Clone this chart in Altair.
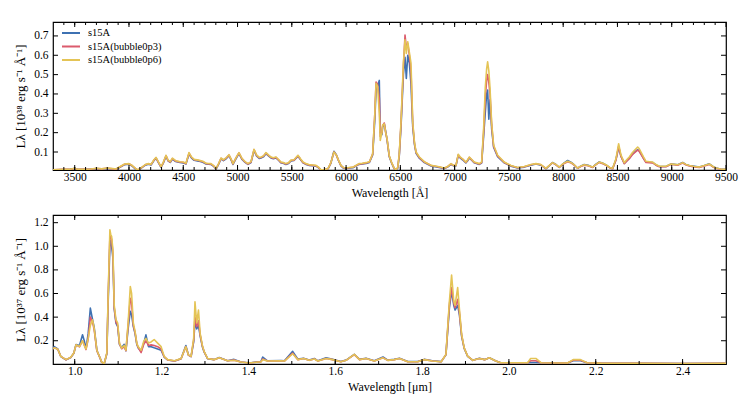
import altair as alt
import pandas as pd

FONT = "Liberation Serif"
SERIES = ["s15A", "s15A(bubble0p3)", "s15A(bubble0p6)"]
COLORS = ["#3E71B2", "#DB5B6D", "#E4C456"]

# ---------------- optical panel (Angstrom, 1e38 erg/s/A) ----------------
top_wave = [3300, 3350, 3400, 3450, 3500, 3530, 3600, 3650, 3700, 3750,
            3800, 3850, 3880, 3920, 3960, 4000, 4030, 4060, 4083, 4110,
            4150, 4180, 4203, 4230, 4249, 4270, 4295, 4315, 4341, 4360,
            4380, 4400, 4430, 4470, 4500, 4525, 4553, 4575, 4600, 4640,
            4680, 4710, 4755, 4780, 4802, 4825, 4848, 4870, 4895, 4921,
            4940, 4958, 4985, 5013, 5040, 5070, 5096, 5124, 5152, 5175,
            5200, 5216, 5240, 5262, 5285, 5308, 5330, 5354, 5380, 5400,
            5425, 5446, 5470, 5492, 5520, 5557, 5580, 5603, 5630, 5658,
            5690, 5723, 5750, 5769, 5800, 5833, 5860, 5888, 5910, 5930,
            5953, 5975, 5999, 6030, 6064, 6090, 6119, 6150, 6184, 6215,
            6245, 6265, 6276, 6290, 6306, 6315, 6330, 6337, 6352, 6365,
            6377, 6398, 6420, 6444, 6460, 6476, 6490, 6506, 6528, 6543,
            6555, 6568, 6583, 6598, 6614, 6630, 6645, 6675, 6721, 6783,
            6845, 6906, 6935, 6967, 6990, 7012, 7033, 7050, 7073, 7104,
            7120, 7135, 7160, 7181, 7227, 7249, 7267, 7282, 7295, 7304,
            7315, 7326, 7341, 7359, 7396, 7457, 7519, 7580, 7642, 7703,
            7749, 7795, 7841, 7870, 7902, 7935, 7964, 8000, 8041, 8075,
            8102, 8133, 8165, 8194, 8230, 8271, 8300, 8332, 8365, 8394,
            8430, 8455, 8486, 8511, 8532, 8563, 8585, 8609, 8635, 8655,
            8686, 8700, 8717, 8740, 8763, 8795, 8824, 8855, 8886, 8920,
            8947, 8993, 9025, 9055, 9080, 9101, 9130, 9162, 9210, 9254,
            9300, 9346, 9380, 9407, 9450, 9500]

top_s15A = [.007, .008, .009, .009, .016, .009, .010, .011, .014, .012,
            .015, .012, .010, .022, .035, .037, .027, .012, .006, .015,
            .032, .037, .033, .056, .068, .046, .021, .041, .078, .054,
            .046, .063, .051, .046, .044, .038, .090, .070, .057, .053,
            .047, .038, .036, .026, .011, .036, .064, .055, .065, .081,
            .060, .036, .065, .092, .063, .046, .036, .046, .108, .080,
            .067, .069, .075, .091, .080, .069, .065, .069, .056, .044,
            .041, .036, .041, .054, .056, .078, .061, .044, .036, .031,
            .029, .027, .017, .006, .008, .012, .043, .104, .086, .056,
            .028, .017, .014, .017, .019, .027, .036, .038, .041, .046,
            .085, .270, .420, .440, .470, .200, .190, .230, .245, .205,
            .165, .075, .042, .013, .008, .017, .080, .230, .500, .590,
            .480, .600, .560, .450, .230, .140, .093, .068, .045, .028,
            .022, .015, .022, .036, .028, .028, .082, .070, .060, .044,
            .055, .069, .056, .044, .036, .043, .180, .300, .400, .420,
            .270, .370, .220, .125, .076, .044, .027, .018, .022, .032,
            .038, .032, .013, .028, .046, .034, .020, .040, .056, .046,
            .033, .016, .028, .035, .031, .021, .036, .049, .042, .033,
            .019, .014, .060, .125, .078, .041, .054, .068, .087, .098,
            .112, .106, .090, .068, .048, .047, .046, .033, .025, .025,
            .025, .038, .036, .034, .041, .046, .036, .030, .026, .022,
            .030, .039, .025, .017, .012, .010]

top_bub03 = [.008, .009, .010, .010, .015, .010, .011, .012, .015, .013,
             .016, .013, .011, .024, .037, .039, .029, .014, .007, .017,
             .034, .039, .035, .058, .070, .048, .023, .043, .081, .056,
             .048, .066, .053, .048, .046, .040, .094, .073, .060, .056,
             .050, .040, .038, .028, .013, .038, .067, .058, .068, .084,
             .063, .038, .068, .095, .066, .048, .038, .048, .112, .083,
             .070, .072, .079, .095, .083, .072, .068, .072, .058, .046,
             .043, .038, .043, .056, .058, .081, .063, .046, .038, .033,
             .031, .029, .018, .007, .009, .013, .044, .100, .084, .057,
             .030, .019, .016, .019, .021, .029, .038, .040, .043, .048,
             .089, .300, .462, .450, .380, .180, .200, .235, .250, .200,
             .168, .078, .044, .014, .009, .019, .085, .245, .540, .705,
             .640, .660, .600, .520, .245, .145, .097, .071, .048, .030,
             .024, .016, .024, .038, .030, .030, .085, .072, .063, .046,
             .058, .072, .058, .046, .038, .046, .200, .380, .470, .500,
             .460, .400, .240, .130, .080, .046, .029, .019, .024, .034,
             .039, .034, .014, .029, .044, .034, .021, .038, .050, .043,
             .032, .016, .026, .032, .029, .020, .033, .046, .040, .032,
             .018, .013, .058, .130, .078, .040, .052, .065, .085, .095,
             .110, .104, .088, .066, .046, .045, .044, .032, .024, .024,
             .024, .036, .034, .032, .038, .043, .034, .028, .023, .020,
             .028, .036, .023, .016, .011, .009]

top_bub06 = [.008, .009, .010, .010, .016, .010, .011, .012, .016, .013,
             .017, .014, .012, .025, .038, .040, .030, .015, .007, .018,
             .035, .040, .036, .060, .072, .050, .024, .045, .083, .058,
             .050, .068, .055, .050, .048, .042, .097, .075, .062, .058,
             .052, .042, .040, .030, .014, .040, .069, .060, .070, .086,
             .065, .040, .070, .097, .068, .050, .040, .050, .114, .085,
             .072, .074, .080, .097, .085, .074, .070, .074, .060, .048,
             .045, .040, .045, .058, .060, .083, .065, .048, .040, .035,
             .033, .031, .020, .008, .010, .014, .045, .100, .085, .058,
             .031, .020, .017, .020, .022, .030, .040, .042, .045, .050,
             .091, .300, .455, .440, .300, .160, .200, .240, .245, .200,
             .170, .080, .045, .015, .010, .020, .090, .255, .560, .680,
             .610, .670, .615, .560, .255, .150, .100, .074, .050, .031,
             .025, .017, .025, .040, .031, .031, .088, .075, .065, .048,
             .060, .074, .060, .048, .040, .048, .220, .430, .530, .566,
             .520, .430, .250, .136, .083, .048, .030, .020, .025, .035,
             .040, .035, .015, .030, .045, .035, .022, .040, .052, .045,
             .034, .017, .028, .034, .030, .022, .035, .048, .042, .034,
             .020, .015, .065, .143, .085, .045, .060, .074, .095, .108,
             .126, .118, .100, .075, .052, .050, .048, .035, .026, .026,
             .026, .038, .036, .034, .040, .045, .036, .030, .025, .022,
             .030, .038, .025, .017, .012, .010]

# ---------------- near-IR panel (micron, 1e37 erg/s/A) ----------------
bot_wave = [0.950, 0.953, 0.961, 0.968, 0.980, 0.991, 0.998, 1.003, 1.011, 1.018,
            1.022, 1.026, 1.031, 1.036, 1.041, 1.045, 1.051, 1.059, 1.062, 1.068,
            1.074, 1.077, 1.081, 1.083, 1.085, 1.088, 1.091, 1.095, 1.099, 1.103,
            1.108, 1.114, 1.118, 1.123, 1.128, 1.131, 1.135, 1.139, 1.143, 1.146,
            1.153, 1.159, 1.164, 1.170, 1.176, 1.183, 1.191, 1.199, 1.206, 1.214,
            1.230, 1.245, 1.256, 1.262, 1.268, 1.274, 1.277, 1.281, 1.285, 1.289,
            1.294, 1.298, 1.306, 1.321, 1.333, 1.352, 1.367, 1.383, 1.402, 1.429,
            1.433, 1.444, 1.475, 1.483, 1.502, 1.514, 1.527, 1.540, 1.552, 1.560,
            1.579, 1.594, 1.613, 1.625, 1.644, 1.656, 1.671, 1.690, 1.710, 1.721,
            1.736, 1.748, 1.767, 1.790, 1.805, 1.824, 1.844, 1.855, 1.863, 1.868,
            1.873, 1.876, 1.882, 1.886, 1.891, 1.897, 1.905, 1.917, 1.932, 1.944,
            1.955, 1.970, 1.981, 2.000, 2.043, 2.050, 2.062, 2.074, 2.135, 2.148,
            2.165, 2.180, 2.211, 2.300, 2.400, 2.500]

bot_s15A = [.140, .150, .130, .066, .038, .058, .094, .168, .160, .250,
            .200, .135, .260, .477, .380, .310, .120, .048, .019, .006,
            .090, .520, 1.010, 1.050, 1.000, .900, .470, .350, .320, .170,
            .140, .170, .115, .300, .450, .420, .320, .260, .170, .140,
            .110, .180, .250, .150, .150, .140, .130, .120, .062, .037,
            .028, .048, .160, .078, .065, .190, .360, .300, .330, .240,
            .150, .105, .048, .040, .058, .030, .042, .020, .012, .024,
            .062, .030, .032, .030, .110, .044, .052, .036, .050, .030,
            .056, .042, .024, .036, .085, .042, .052, .030, .062, .036,
            .042, .052, .024, .024, .042, .030, .023, .080, .480, .620,
            .500, .460, .500, .420, .240, .135, .068, .034, .052, .040,
            .056, .028, .014, .014, .014, .016, .016, .014, .012, .030,
            .030, .014, .010, .008, .007, .008]

bot_bub03 = [.132, .140, .128, .067, .039, .059, .095, .165, .148, .200,
             .165, .125, .215, .400, .360, .290, .115, .048, .019, .006,
             .094, .560, 1.080, 1.080, 1.060, .940, .480, .360, .330, .175,
             .132, .150, .115, .330, .560, .520, .330, .270, .175, .145,
             .100, .170, .200, .160, .165, .160, .150, .130, .065, .038,
             .029, .048, .150, .078, .066, .205, .400, .320, .370, .250,
             .155, .108, .049, .040, .056, .030, .036, .020, .012, .022,
             .045, .028, .030, .028, .095, .040, .050, .034, .046, .028,
             .050, .040, .022, .034, .082, .040, .050, .028, .056, .034,
             .040, .050, .022, .022, .040, .028, .022, .082, .510, .650,
             .520, .480, .550, .440, .250, .138, .069, .034, .050, .040,
             .055, .028, .014, .014, .014, .030, .030, .014, .012, .035,
             .035, .014, .010, .008, .007, .008]

bot_bub06 = [.130, .140, .128, .068, .040, .060, .096, .166, .150, .200,
             .160, .130, .220, .330, .378, .300, .120, .050, .020, .007,
             .096, .576, 1.140, 1.100, 1.085, .970, .500, .380, .350, .180,
             .138, .160, .120, .350, .660, .600, .350, .280, .180, .150,
             .120, .195, .220, .180, .190, .210, .180, .150, .068, .040,
             .030, .050, .150, .080, .068, .220, .530, .350, .460, .260,
             .160, .110, .050, .040, .055, .030, .035, .020, .012, .022,
             .040, .028, .030, .028, .090, .040, .050, .034, .045, .028,
             .050, .040, .022, .034, .085, .040, .050, .028, .055, .034,
             .040, .050, .022, .022, .040, .028, .022, .085, .536, .757,
             .536, .500, .650, .470, .257, .140, .070, .034, .050, .040,
             .056, .028, .014, .014, .014, .050, .050, .014, .012, .040,
             .040, .014, .010, .008, .007, .008]

# ---------------- ticks ----------------
top_xmajor = [3500, 4000, 4500, 5000, 5500, 6000, 6500, 7000, 7500, 8000, 8500, 9000, 9500]
top_xminor = list(range(3400, 9500, 100))
top_yticks = [0.1, 0.2, 0.3, 0.4, 0.5, 0.6, 0.7]
bot_xlabels = [1.0, 1.2, 1.4, 1.6, 1.8, 2.0, 2.2, 2.4]
bot_xminor = [1.0, 1.1, 1.2, 1.3, 1.4, 1.5, 1.6, 1.7, 1.8, 1.9, 2.0, 2.1, 2.2, 2.3, 2.4]
bot_yticks = [0.2, 0.4, 0.6, 0.8, 1.0, 1.2]

W = 673


def long_table(wave, cols):
    rows = []
    for name, vals in zip(SERIES, cols):
        assert len(vals) == len(wave)
        for w, v in zip(wave, vals):
            rows.append({"wave": w, "L": v, "series": name})
    return pd.DataFrame(rows)


def panel(wave, cols, xdom, ydom, xmajor, xminor, yticks, xfmt, xtitle, ytitle, h, legend):
    xs = alt.Scale(domain=xdom, nice=False, zero=False)
    ys = alt.Scale(domain=ydom, nice=False, zero=False)
    xax = alt.Axis(values=xmajor, format=xfmt, title=xtitle, labelFlush=False)
    yax = alt.Axis(values=yticks, format=".1f", title=ytitle)
    lines = alt.Chart(long_table(wave, cols)).mark_line(
        strokeWidth=1.6, clip=True, strokeJoin="round"
    ).encode(
        x=alt.X("wave:Q", scale=xs, axis=xax),
        y=alt.Y("L:Q", scale=ys, axis=yax),
        color=alt.Color("series:N", scale=alt.Scale(domain=SERIES, range=COLORS),
                        legend=legend),
    )
    layers = [lines]
    for vals, ln in [(xmajor, 5), (xminor, 3)]:
        d = pd.DataFrame({"wave": vals})
        base = alt.Chart(d).mark_rule(color="black", strokeWidth=1)
        layers.append(base.encode(x=alt.X("wave:Q", scale=xs, axis=xax),
                                  y=alt.value(h), y2=alt.value(h - ln)))
        layers.append(base.encode(x=alt.X("wave:Q", scale=xs, axis=xax),
                                  y=alt.value(0), y2=alt.value(ln)))
    dy = pd.DataFrame({"L": yticks})
    yb = alt.Chart(dy).mark_rule(color="black", strokeWidth=1)
    layers.append(yb.encode(y=alt.Y("L:Q", scale=ys, axis=yax),
                            x=alt.value(0), x2=alt.value(5)))
    layers.append(yb.encode(y=alt.Y("L:Q", scale=ys, axis=yax),
                            x=alt.value(W - 5), x2=alt.value(W)))
    return alt.layer(*layers).properties(width=W, height=h)


top = panel(top_wave, [top_s15A, top_bub03, top_bub06], [3300, 9500], [0.007, 0.772],
            top_xmajor, top_xminor, top_yticks, "d", "Wavelength [Å]",
            "Lλ [10³⁸ erg s⁻¹ Å⁻¹]", 148,
            alt.Legend(title=None, orient="none", legendX=8, legendY=5))

bot = panel(bot_wave, [bot_s15A, bot_bub03, bot_bub06], [0.95, 2.5], [0.003, 1.265],
            bot_xlabels, bot_xminor, bot_yticks, ".1f", "Wavelength [μm]",
            "Lλ [10³⁷ erg s⁻¹ Å⁻¹]", 149, None)

chart = alt.vconcat(top, bot, spacing=13).resolve_legend(color="independent").properties(
    padding={"left": 5, "top": 12, "right": 0, "bottom": 0}
).configure_view(
    stroke="black", strokeWidth=1.2
).configure_axis(
    labelFont=FONT, titleFont=FONT, labelFontSize=11.5, titleFontSize=12,
    titleFontWeight="normal", labelColor="black", titleColor="black",
    tickSize=0, domain=False, grid=False
).configure_axisX(
    labelPadding=1, titlePadding=5
).configure_axisY(
    labelPadding=5, minExtent=22, maxExtent=22, titlePadding=4, titleFontSize=13
).configure_legend(
    labelFont=FONT, labelFontSize=10.5, labelColor="black",
    symbolType="stroke", symbolStrokeWidth=2, symbolSize=324,
    clipHeight=12, rowPadding=1.5, labelOffset=7, padding=0
)

chart.save("out.html", embed_options={"renderer": "svg", "actions": False})
